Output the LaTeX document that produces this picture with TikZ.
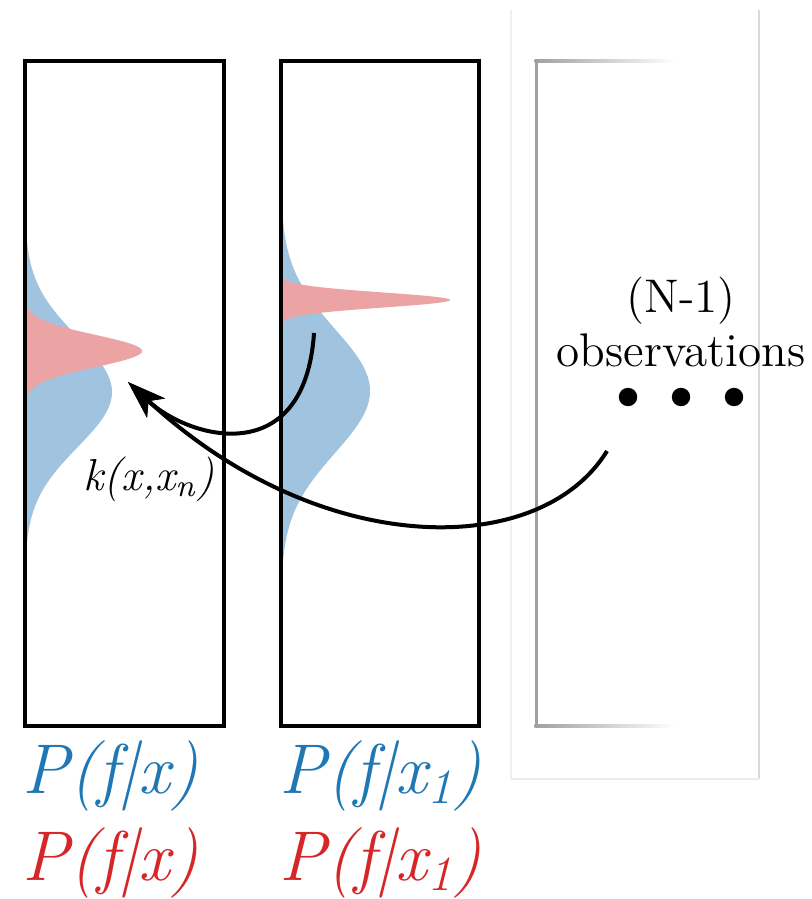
\documentclass[tikz,border=0pt]{standalone}
\usetikzlibrary{arrows.meta}
\definecolor{bluefill}{RGB}{160,196,223}
\definecolor{redfill}{RGB}{236,163,163}
\definecolor{labelblue}{RGB}{31,119,180}
\definecolor{labelred}{RGB}{214,39,40}
\definecolor{fadegray}{RGB}{160,160,160}
\begin{document}
\begin{tikzpicture}[x=0.25pt,y=-0.25pt,
  boxline/.style={line width=0.8pt, black},
  arrowline/.style={line width=1pt, -{Stealth[length=9.5pt,width=6.5pt,inset=2.5pt]}},
  plabel/.style={anchor=base west, inner sep=0pt, font=\fontsize{17.6}{20}\selectfont\itshape},
  obstext/.style={anchor=base, inner sep=0pt, font=\fontsize{11.8}{14}\selectfont},
  dotnode/.style={circle, fill=black, inner sep=0pt, minimum size=4.6pt}]
\useasboundingbox (0,0) rectangle (812,899);

% faded third column
\draw[black!6, line width=0.3pt] (511,10) -- (511,779);
\draw[black!15, line width=0.3pt] (759,10) -- (759,779);
\draw[black!8, line width=0.3pt] (511,779) -- (759,779);
\shade[left color=fadegray, right color=white] (534.5,59.5) rectangle (676,62.5);
\shade[left color=fadegray, right color=white] (534.5,724.5) rectangle (676,727.5);
\fill[fadegray] (534.5,59.5) rectangle (537.5,727.5);

% distributions, box 1
\fill[bluefill] plot[domain=-2.9:2.9, samples=120] ({25+87*exp(-0.5*\x*\x)}, {392+55*\x}) -- cycle;
\fill[redfill] plot[domain=-3:3, samples=120] ({25+117*exp(-0.5*\x*\x)}, {351+16*\x}) -- cycle;
% distributions, box 2
\fill[bluefill] plot[domain=-3.05:3.05, samples=120] ({281+89*exp(-0.5*\x*\x)}, {391+62*\x}) -- cycle;
\fill[redfill] plot[domain=-3.2:3.2, samples=120] ({281+169*exp(-0.5*\x*\x)}, {300+7.5*\x}) -- cycle;

% boxes
\draw[boxline] (25,61) rectangle (224,726);
\draw[boxline] (281,61) rectangle (479,726);

% labels
\node[plabel, text=labelblue] (pb1) at (22,793) {P(f|x)};
\node[plabel, text=labelred] (pr1) at (22,880) {P(f|x)};
\node[plabel, text=labelblue] (pb2) at (279,793) {P(f|x\textsubscript{1})};
\node[plabel, text=labelred] (pr2) at (279,880) {P(f|x\textsubscript{1})};

\node[anchor=base west, inner sep=0pt, font=\fontsize{11.2}{13}\selectfont\itshape] (klab) at (83,490) {k(x,x\textsubscript{n})};

\node[obstext] (nm1) at (681,312) {(N-1)};
\node[obstext] (obs) at (681,366) {observations};
\node[dotnode] (d1) at (628,397) {};
\node[dotnode] (d2) at (681,397) {};
\node[dotnode] (d3) at (734,397) {};

% arrows
\coordinate (tip) at (128,382);
\coordinate (s1) at (314,333);
\coordinate (s2) at (607,451);
\draw[arrowline] (s2) .. controls (540,560) and (320,560) .. (tip);
\draw[arrowline] (s1) .. controls (305,470) and (190,440) .. (tip);
\end{tikzpicture}
\end{document}
